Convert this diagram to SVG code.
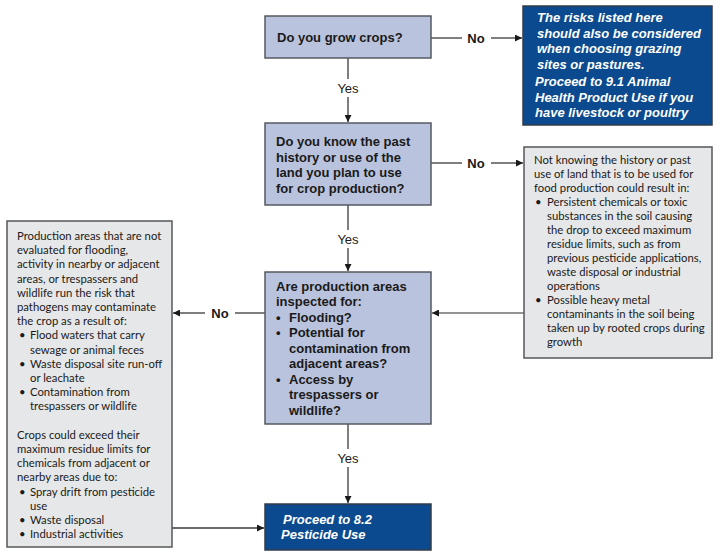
<svg xmlns="http://www.w3.org/2000/svg" width="720" height="560" viewBox="0 0 720 560">
<style>
.q{fill:#b9c3dd;stroke:#55595f;stroke-width:1.5}
.d{fill:#0b4a8e;stroke:#333c48;stroke-width:1.5}
.g{fill:#e6e7e8;stroke:#55575a;stroke-width:1.5}
.qt{font-family:"Liberation Sans",Arial,sans-serif;font-size:13px;font-weight:bold;fill:#1a1a1a}
.dt{font-family:"Liberation Sans",Arial,sans-serif;font-size:13px;font-weight:bold;font-style:italic;fill:#ffffff}
.gt{font-family:Lato,"Liberation Sans",sans-serif;font-size:11.3px;fill:#1a1a1a}
.lb{font-family:"Liberation Sans",Arial,sans-serif;font-size:13px;fill:#1a1a1a;text-anchor:middle}
.ln{fill:none;stroke:#3a3a3a;stroke-width:1.3}
</style>
<defs>
<marker id="ah" viewBox="0 0 10 10" refX="10" refY="5" markerWidth="7" markerHeight="7" markerUnits="userSpaceOnUse" orient="auto"><path d="M0,0 L10,5 L0,10 z" fill="#1a1a1a"/></marker>
</defs>
<g id="connectors">
<path class="ln" d="M431,38 H462"/><path class="ln" d="M491,38 H522" marker-end="url(#ah)"/>
<path class="ln" d="M348,58 V79"/><path class="ln" d="M348,97 V122" marker-end="url(#ah)"/>
<path class="ln" d="M431,163 H462"/><path class="ln" d="M491,163 H523" marker-end="url(#ah)"/>
<path class="ln" d="M348,205 V230"/><path class="ln" d="M348,248 V271" marker-end="url(#ah)"/>
<path class="ln" d="M524,313 H432" marker-end="url(#ah)" style="stroke:#707070"/>
<path class="ln" d="M265,313 H235"/><path class="ln" d="M205,313 H173" marker-end="url(#ah)"/>
<path class="ln" d="M348,424 V449"/><path class="ln" d="M348,467 V503" marker-end="url(#ah)"/>
<path class="ln" d="M172,528 H264" marker-end="url(#ah)"/>
<text class="lb" x="476" y="43" font-weight="bold">No</text>
<text class="lb" x="348" y="93">Yes</text>
<text class="lb" x="476" y="168" font-weight="bold">No</text>
<text class="lb" x="348" y="244">Yes</text>
<text class="lb" x="220" y="318" font-weight="bold">No</text>
<text class="lb" x="348" y="463">Yes</text>
</g>
<g id="q1">
<rect class="q" x="265" y="16" width="166" height="42"/>
<text class="qt" x="277" y="42">Do you grow crops?</text>
</g>
<g id="note-grazing">
<rect class="d" x="523" y="6" width="189" height="119"/>
<text class="dt"><tspan x="537" y="22">The risks listed here</tspan><tspan x="537" y="38">should also be considered</tspan><tspan x="537" y="53">when choosing grazing</tspan><tspan x="537" y="69">sites or pastures.</tspan><tspan x="535" y="86">Proceed to 9.1 Animal</tspan><tspan x="535" y="102">Health Product Use if you</tspan><tspan x="535" y="117">have livestock or poultry</tspan></text>
</g>
<g id="q2">
<rect class="q" x="265" y="123" width="166" height="82"/>
<text class="qt"><tspan x="276" y="146">Do you know the past</tspan><tspan x="276" y="161.5">history or use of the</tspan><tspan x="276" y="177">land you plan to use</tspan><tspan x="276" y="192.5">for crop production?</tspan></text>
</g>
<g id="note-history">
<rect class="g" x="524" y="147" width="188" height="211"/>
<text class="gt"><tspan x="534" y="164">Not knowing the history or past</tspan><tspan x="534" y="178">use of land that is to be used for</tspan><tspan x="534" y="192">food production could result in:</tspan><tspan x="535" y="206">•</tspan><tspan x="547" y="206">Persistent chemicals or toxic</tspan><tspan x="547" y="220">substances in the soil causing</tspan><tspan x="547" y="234">the drop to exceed maximum</tspan><tspan x="547" y="248">residue limits, such as from</tspan><tspan x="547" y="262">previous pesticide applications,</tspan><tspan x="547" y="276">waste disposal or industrial</tspan><tspan x="547" y="290">operations</tspan><tspan x="535" y="304">•</tspan><tspan x="547" y="304">Possible heavy metal</tspan><tspan x="547" y="318">contaminants in the soil being</tspan><tspan x="547" y="332">taken up by rooted crops during</tspan><tspan x="547" y="346">growth</tspan></text>
</g>
<g id="q3">
<rect class="q" x="265" y="272" width="166" height="152"/>
<text class="qt"><tspan x="276" y="290.5">Are production areas</tspan><tspan x="276" y="306">inspected for:</tspan><tspan x="276" y="321.5">•</tspan><tspan x="289" y="321.5">Flooding?</tspan><tspan x="276" y="337">•</tspan><tspan x="289" y="337">Potential for</tspan><tspan x="289" y="352.5">contamination from</tspan><tspan x="289" y="368">adjacent areas?</tspan><tspan x="276" y="383.5">•</tspan><tspan x="289" y="383.5">Access by</tspan><tspan x="289" y="399">trespassers or</tspan><tspan x="289" y="414.5">wildlife?</tspan></text>
</g>
<g id="note-inspection">
<rect class="g" x="7" y="221" width="165" height="326"/>
<text class="gt"><tspan x="17" y="240">Production areas that are not</tspan><tspan x="17" y="254.2">evaluated for flooding,</tspan><tspan x="17" y="268.4">activity in nearby or adjacent</tspan><tspan x="17" y="282.6">areas, or trespassers and</tspan><tspan x="17" y="296.8">wildlife run the risk that</tspan><tspan x="17" y="311">pathogens may contaminate</tspan><tspan x="17" y="325.2">the crop as a result of:</tspan><tspan x="19" y="339.4">•</tspan><tspan x="30" y="339.4">Flood waters that carry</tspan><tspan x="30" y="353.6">sewage or animal feces</tspan><tspan x="19" y="367.8">•</tspan><tspan x="30" y="367.8">Waste disposal site run-off</tspan><tspan x="30" y="382">or leachate</tspan><tspan x="19" y="396.2">•</tspan><tspan x="30" y="396.2">Contamination from</tspan><tspan x="30" y="410.4">trespassers or wildlife</tspan><tspan x="17" y="438.8">Crops could exceed their</tspan><tspan x="17" y="453">maximum residue limits for</tspan><tspan x="17" y="467.2">chemicals from adjacent or</tspan><tspan x="17" y="481.4">nearby areas due to:</tspan><tspan x="19" y="495.6">•</tspan><tspan x="30" y="495.6">Spray drift from pesticide</tspan><tspan x="30" y="509.8">use</tspan><tspan x="19" y="524">•</tspan><tspan x="30" y="524">Waste disposal</tspan><tspan x="19" y="538.2">•</tspan><tspan x="30" y="538.2">Industrial activities</tspan></text>
</g>
<g id="proceed-8-2">
<rect class="d" x="265" y="504" width="166" height="46"/>
<text class="dt"><tspan x="283" y="524">Proceed to 8.2</tspan><tspan x="281" y="539">Pesticide Use</tspan></text>
</g>
</svg>
